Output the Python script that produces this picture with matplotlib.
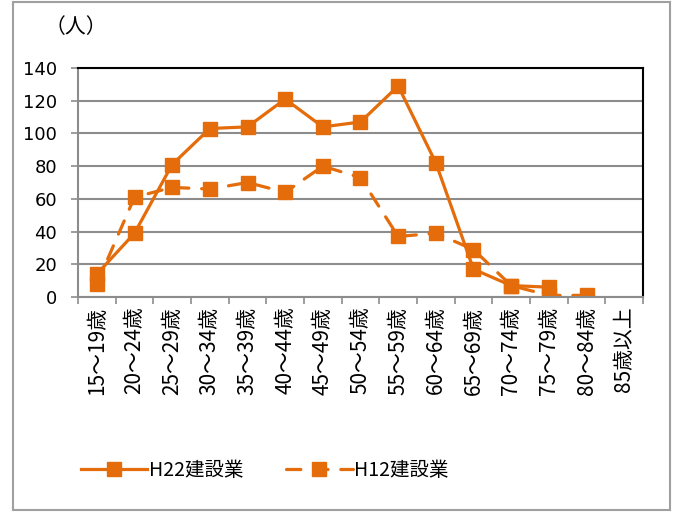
import numpy as np
import matplotlib
matplotlib.use('Agg')
import matplotlib.pyplot as plt
from matplotlib.patches import Rectangle

plt.rcParams['font.family'] = ['Noto Sans CJK JP', 'DejaVu Sans']

# 年齢階級別 就業者数（建設業）
ages = ['15～19歳', '20～24歳', '25～29歳', '30～34歳', '35～39歳', '40～44歳',
        '45～49歳', '50～54歳', '55～59歳', '60～64歳', '65～69歳', '70～74歳',
        '75～79歳', '80～84歳', '85歳以上']
h22 = [14, 39, 81, 103, 104, 121, 104, 107, 129, 82, 17, 7, 6, np.nan, np.nan]
h12 = [8, 61, 67, 66, 70, 64, 80, 73, 37, 39, 29, 7, 1, 1, np.nan]
yticks = [0, 20, 40, 60, 80, 100, 120, 140]

color = '#E46C0A'
gray = '#8C8C8C'

fig = plt.figure(figsize=(6.78, 5.14), dpi=100)
ax = fig.add_axes([78/678, 1 - 297/514, 565/678, 229/514])

x = np.arange(len(ages))
ax.plot(x, h22, color=color, linewidth=2.3, marker='s', markersize=10,
        label='H22建設業')
ax.plot(x, h12, color=color, linewidth=2.3, marker='s', markersize=10,
        linestyle=(0, (4.5, 4)), dash_capstyle='round', label='H12建設業')

ax.set_xlim(-0.5, len(ages) - 0.5)
ax.set_ylim(0, 140)
ax.set_yticks(yticks)
ax.set_yticklabels([str(v) for v in yticks], fontsize=13, family='DejaVu Sans')
ax.set_xticks(np.arange(len(ages) + 1) - 0.5)
ax.set_xticklabels([])
ax.set_xticks(x, minor=True)
ax.set_xticklabels(ages, minor=True, rotation=90, fontsize=15)
ax.tick_params(axis='x', which='minor', length=0, pad=7)
ax.tick_params(axis='x', which='major', length=5, color=gray, width=1.2)
ax.tick_params(axis='y', length=5, color=gray, width=1.2, pad=10)

ax.grid(axis='y', color=gray, linewidth=1.5)
ax.set_axisbelow(True)
for s in ['left', 'bottom']:
    ax.spines[s].set_color(gray)
    ax.spines[s].set_linewidth(1.5)
for s in ['top', 'right']:
    ax.spines[s].set_color('black')
    ax.spines[s].set_linewidth(1.5)

fig.text(45/678, 1 - 27/514, '（人）', fontsize=15, va='center', ha='left')

fig.legend(loc='center', bbox_to_anchor=(265/678, 1 - 470/514), ncol=2,
           frameon=False, fontsize=14, handlelength=3.4, columnspacing=2.2,
           handletextpad=0.1)

fig.patches.append(Rectangle((13/678, 1 - 510/514), 657/678, 508/514,
                             transform=fig.transFigure, fill=False,
                             edgecolor='#A0A0A0', linewidth=1.5))

fig.savefig('out.png', dpi=100)
